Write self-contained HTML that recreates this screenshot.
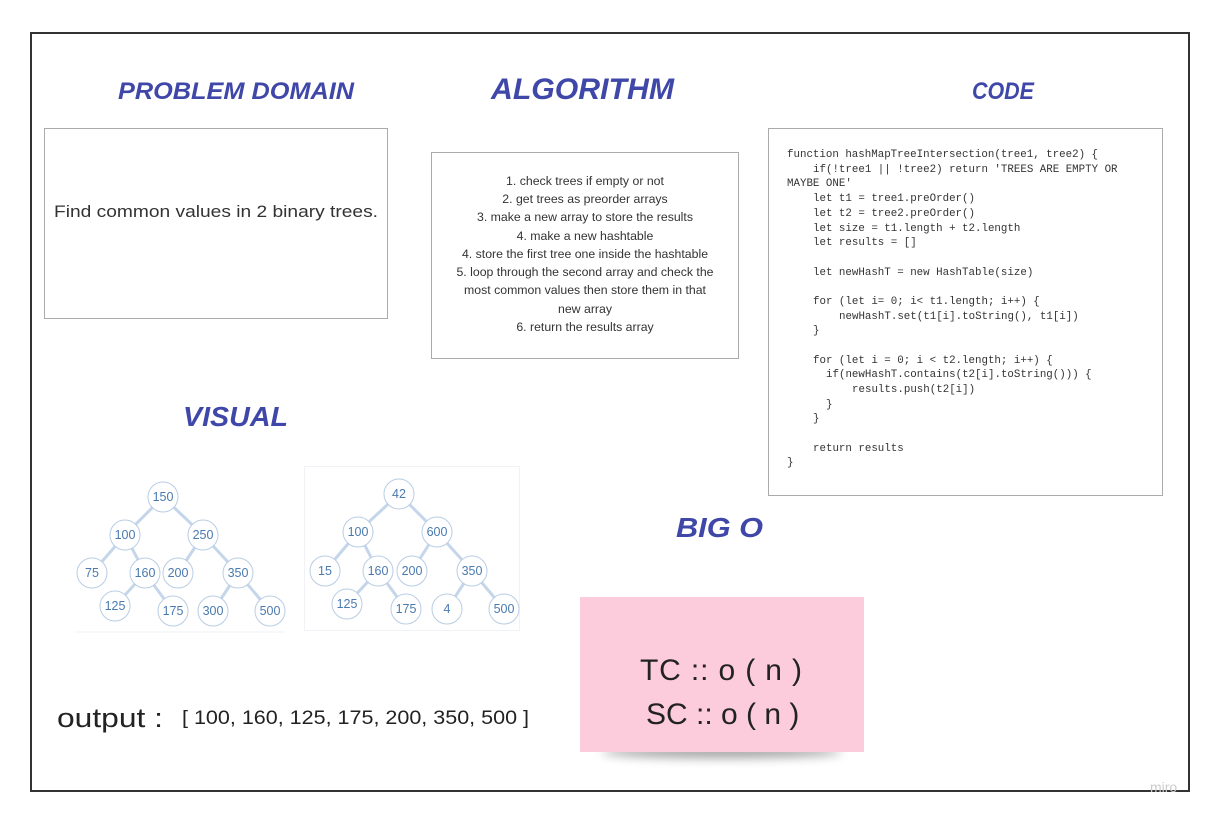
<!DOCTYPE html>
<html><head><meta charset="utf-8"><style>
html,body{margin:0;padding:0;background:#fff;width:1218px;height:820px;overflow:hidden}
svg{display:block}
.t{font-family:"Liberation Sans",sans-serif;font-weight:bold;font-style:italic;fill:#3f47a8}
.n{font-family:"Liberation Sans",sans-serif;font-size:12.5px;fill:#4a7ab0;text-anchor:middle}
.c{fill:#fff;stroke:#b9cde4;stroke-width:1}
.e{stroke:#c5d6ea;stroke-width:3}
.code{font-family:"Liberation Mono",monospace;font-size:10.8px;fill:#333}
.alg{font-family:"Liberation Sans",sans-serif;font-size:12.3px;fill:#333;text-anchor:middle}
</style></head><body>
<svg width="1218" height="820" xmlns="http://www.w3.org/2000/svg">
<rect x="31" y="33" width="1158" height="758" fill="#fff" stroke="#333" stroke-width="2"/>
<text x="1150" y="792" font-family="Liberation Sans,sans-serif" font-size="14" fill="#ccc">miro</text>

<text class="t" x="118" y="99" font-size="24" textLength="236" lengthAdjust="spacingAndGlyphs">PROBLEM DOMAIN</text>
<text class="t" x="491" y="99" font-size="30" textLength="183" lengthAdjust="spacingAndGlyphs">ALGORITHM</text>
<text class="t" x="972" y="99" font-size="24" textLength="62" lengthAdjust="spacingAndGlyphs">CODE</text>
<text class="t" x="183" y="426" font-size="28" textLength="105" lengthAdjust="spacingAndGlyphs">VISUAL</text>
<text class="t" x="676" y="537" font-size="28" textLength="87" lengthAdjust="spacingAndGlyphs">BIG O</text>

<rect x="44.5" y="128.5" width="343" height="190" fill="#fff" stroke="#aaa"/>
<text x="216" y="217" font-family="Liberation Sans,sans-serif" font-size="17" fill="#333" text-anchor="middle" textLength="324" lengthAdjust="spacingAndGlyphs">Find common values in 2 binary trees.</text>

<rect x="431.5" y="152.5" width="307" height="206" fill="#fff" stroke="#aaa"/>
<text class="alg" x="585" y="185">1. check trees if empty or not</text>
<text class="alg" x="585" y="203">2. get trees as preorder arrays</text>
<text class="alg" x="585" y="221">3. make a new array to store the results</text>
<text class="alg" x="585" y="240">4. make a new hashtable</text>
<text class="alg" x="585" y="258">4. store the first tree one inside the hashtable</text>
<text class="alg" x="585" y="276">5. loop through the second array and check the</text>
<text class="alg" x="585" y="294">most common values then store them in that</text>
<text class="alg" x="585" y="313">new array</text>
<text class="alg" x="585" y="331">6. return the results array</text>

<rect x="768.5" y="128.5" width="394" height="367" fill="#fff" stroke="#aaa"/>
<g class="code">
<text x="787" y="157">function hashMapTreeIntersection(tree1, tree2) {</text>
<text x="813" y="172">if(!tree1 || !tree2) return 'TREES ARE EMPTY OR</text>
<text x="787" y="186">MAYBE ONE'</text>
<text x="813" y="201">let t1 = tree1.preOrder()</text>
<text x="813" y="216">let t2 = tree2.preOrder()</text>
<text x="813" y="231">let size = t1.length + t2.length</text>
<text x="813" y="245">let results = []</text>
<text x="813" y="275">let newHashT = new HashTable(size)</text>
<text x="813" y="304">for (let i= 0; i&lt; t1.length; i++) {</text>
<text x="839" y="319">newHashT.set(t1[i].toString(), t1[i])</text>
<text x="813" y="333">}</text>
<text x="813" y="363">for (let i = 0; i &lt; t2.length; i++) {</text>
<text x="826" y="377">if(newHashT.contains(t2[i].toString())) {</text>
<text x="852" y="392">results.push(t2[i])</text>
<text x="826" y="407">}</text>
<text x="813" y="421">}</text>
<text x="813" y="451">return results</text>
<text x="787" y="465">}</text>
</g>

<line x1="74" y1="632" x2="285" y2="632" stroke="#eef0f3"/>
<g class="e">
<line x1="163" y1="497" x2="125" y2="535"/><line x1="163" y1="497" x2="203" y2="535"/>
<line x1="125" y1="535" x2="92" y2="573"/><line x1="125" y1="535" x2="145" y2="573"/>
<line x1="203" y1="535" x2="178" y2="573"/><line x1="203" y1="535" x2="238" y2="573"/>
<line x1="145" y1="573" x2="115" y2="606"/><line x1="145" y1="573" x2="173" y2="611"/>
<line x1="238" y1="573" x2="213" y2="611"/><line x1="238" y1="573" x2="270" y2="611"/>
</g>
<g class="e">
<line x1="399" y1="494" x2="358" y2="532"/><line x1="399" y1="494" x2="437" y2="532"/>
<line x1="358" y1="532" x2="325" y2="571"/><line x1="358" y1="532" x2="378" y2="571"/>
<line x1="437" y1="532" x2="412" y2="571"/><line x1="437" y1="532" x2="472" y2="571"/>
<line x1="378" y1="571" x2="347" y2="604"/><line x1="378" y1="571" x2="406" y2="609"/>
<line x1="472" y1="571" x2="447" y2="609"/><line x1="472" y1="571" x2="504" y2="609"/>
</g>
<rect x="304.5" y="466.5" width="215" height="164" fill="none" stroke="#f0f2f5"/>
<g>
<circle class="c" cx="163" cy="497" r="15"/><text class="n" x="163" y="501">150</text>
<circle class="c" cx="125" cy="535" r="15"/><text class="n" x="125" y="539">100</text>
<circle class="c" cx="203" cy="535" r="15"/><text class="n" x="203" y="539">250</text>
<circle class="c" cx="92" cy="573" r="15"/><text class="n" x="92" y="577">75</text>
<circle class="c" cx="145" cy="573" r="15"/><text class="n" x="145" y="577">160</text>
<circle class="c" cx="178" cy="573" r="15"/><text class="n" x="178" y="577">200</text>
<circle class="c" cx="238" cy="573" r="15"/><text class="n" x="238" y="577">350</text>
<circle class="c" cx="115" cy="606" r="15"/><text class="n" x="115" y="610">125</text>
<circle class="c" cx="173" cy="611" r="15"/><text class="n" x="173" y="615">175</text>
<circle class="c" cx="213" cy="611" r="15"/><text class="n" x="213" y="615">300</text>
<circle class="c" cx="270" cy="611" r="15"/><text class="n" x="270" y="615">500</text>

<circle class="c" cx="399" cy="494" r="15"/><text class="n" x="399" y="498">42</text>
<circle class="c" cx="358" cy="532" r="15"/><text class="n" x="358" y="536">100</text>
<circle class="c" cx="437" cy="532" r="15"/><text class="n" x="437" y="536">600</text>
<circle class="c" cx="325" cy="571" r="15"/><text class="n" x="325" y="575">15</text>
<circle class="c" cx="378" cy="571" r="15"/><text class="n" x="378" y="575">160</text>
<circle class="c" cx="412" cy="571" r="15"/><text class="n" x="412" y="575">200</text>
<circle class="c" cx="472" cy="571" r="15"/><text class="n" x="472" y="575">350</text>
<circle class="c" cx="347" cy="604" r="15"/><text class="n" x="347" y="608">125</text>
<circle class="c" cx="406" cy="609" r="15"/><text class="n" x="406" y="613">175</text>
<circle class="c" cx="447" cy="609" r="15"/><text class="n" x="447" y="613">4</text>
<circle class="c" cx="504" cy="609" r="15"/><text class="n" x="504" y="613">500</text>
</g>

<text x="57" y="727" font-family="Liberation Sans,sans-serif" font-size="27" fill="#222" textLength="106" lengthAdjust="spacingAndGlyphs">output :</text>
<text x="182" y="724" font-family="Liberation Sans,sans-serif" font-size="19" fill="#222" textLength="347" lengthAdjust="spacingAndGlyphs">[ 100, 160, 125, 175, 200, 350, 500 ]</text>

<defs><filter id="sh" x="-20%" y="-200%" width="140%" height="500%"><feGaussianBlur stdDeviation="5"/></filter></defs>
<ellipse cx="722" cy="752" rx="120" ry="6" fill="#555" opacity="0.55" filter="url(#sh)"/>
<rect x="580" y="597" width="284" height="155" fill="#fccbdc"/>
<text x="640" y="680" font-family="Liberation Sans,sans-serif" font-size="30" fill="#222" textLength="162" lengthAdjust="spacing">TC ::  o ( n )</text>
<text x="646" y="724" font-family="Liberation Sans,sans-serif" font-size="30" fill="#222">SC :: o ( n )</text>
</svg>
</body></html>
